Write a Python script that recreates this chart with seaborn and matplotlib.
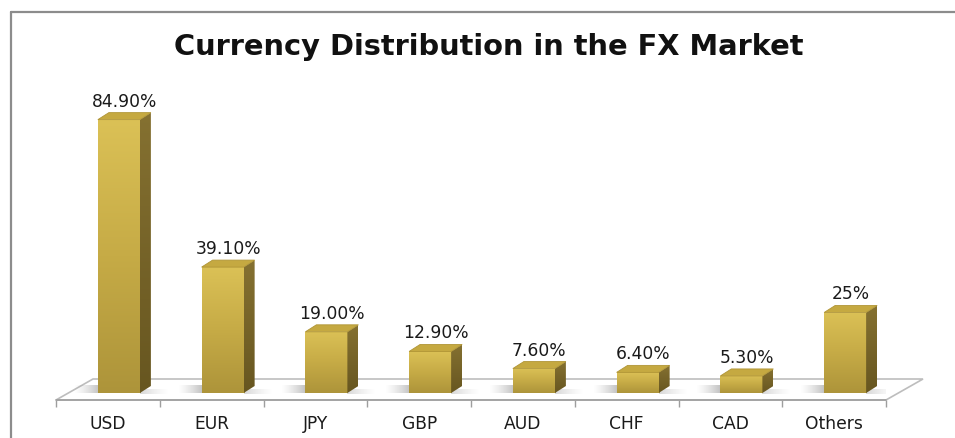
import numpy as np
import pandas as pd
import seaborn as sns
import matplotlib.pyplot as plt
from matplotlib.patches import Polygon
from matplotlib.lines import Line2D
from matplotlib.colors import LinearSegmentedColormap

currencies = ["USD", "EUR", "JPY", "GBP", "AUD", "CHF", "CAD", "Others"]
shares = [84.9, 39.1, 19.0, 12.9, 7.6, 6.4, 5.3, 25.0]
value_labels = ["84.90%", "39.10%", "19.00%", "12.90%", "7.60%", "6.40%", "5.30%", "25%"]
title = "Currency Distribution in the FX Market"

df = pd.DataFrame({"currency": currencies, "share": shares})

sns.set_theme(style="white")
plt.rcParams['font.family'] = ['DejaVu Sans']

W, H = 955, 439
fig = plt.figure(figsize=(W / 100, H / 100), dpi=100)

# axes in pixel geometry
px0, px1 = 56, 886
py_front = 401
py_top = 100
py_base = 394
ppu = 3.22  # pixels per percentage point
ax = fig.add_axes([px0 / W, (H - py_front) / H, (px1 - px0) / W, (py_front - py_top) / H])

sns.barplot(data=df, x="currency", y="share", ax=ax, width=0.405,
            color="#C8AE45", saturation=1, linewidth=0, zorder=3)

ylo = -(py_front - py_base) / ppu
yhi = (py_base - py_top) / ppu
xlo, xhi = -0.5, 7.5
upx = (xhi - xlo) / (px1 - px0)  # data units per pixel in x

shift = 11 * upx
dx = 11 * upx
dy = 7 / ppu

# floor
back_dx = 37 * upx
back_y = (py_base - 380) / ppu
floor = Polygon([(xlo, ylo), (xhi, ylo), (xhi + back_dx, back_y), (xlo + back_dx, back_y)],
                closed=True, facecolor="white", edgecolor="#BDBDBD", linewidth=1.2,
                clip_on=False, zorder=1)
ax.add_patch(floor)
ax.add_line(Line2D([xlo, xhi], [ylo, ylo], color="#9E9E9E", linewidth=1.2, clip_on=False, zorder=2))

front_cmap = LinearSegmentedColormap.from_list("front", ["#AD943A", "#C6AB46", "#DBC156"])
side_cmap = LinearSegmentedColormap.from_list("side", ["#675620", "#857131"])
grad = np.linspace(0, 1, 256).reshape(-1, 1)

shadow = np.zeros((1, 64, 4))
shadow[..., :3] = 0.5
shadow[0, :, 3] = np.linspace(0, 0.6, 64) ** 1.3

bars = list(ax.patches)
for p, lab in zip(bars, value_labels):
    p.set_x(p.get_x() + shift)
    x, w, h = p.get_x(), p.get_width(), p.get_height()
    xr = x + w
    # soft shadow on the floor left of the bar
    ax.imshow(shadow, extent=[x - 24 * upx, x + 2 * upx, 0.0, dy * 1.1], aspect="auto",
              zorder=2, interpolation="bilinear")
    ax.imshow(shadow[:, ::-1, :] * np.array([1, 1, 1, 0.6]),
              extent=[xr, xr + dx + 18 * upx, -0.2, dy * 0.6],
              aspect="auto", zorder=2, interpolation="bilinear")
    # front gradient
    img = ax.imshow(grad, extent=[x, xr, 0, h], origin="lower", cmap=front_cmap,
                    aspect="auto", zorder=3.1, interpolation="bilinear")
    img.set_clip_path(p)
    # side face
    side = Polygon([(xr, 0), (xr + dx, dy), (xr + dx, h + dy), (xr, h)], closed=True,
                   facecolor="none", edgecolor="none", zorder=3.2)
    ax.add_patch(side)
    simg = ax.imshow(grad, extent=[xr, xr + dx, 0, h + dy], origin="lower", cmap=side_cmap,
                     aspect="auto", zorder=3.2, interpolation="bilinear")
    simg.set_clip_path(side)
    # top face
    top = Polygon([(x, h), (x + dx, h + dy), (xr + dx, h + dy), (xr, h)], closed=True,
                  facecolor="#C5A941", edgecolor="#B09536", linewidth=0.6, zorder=3.3)
    ax.add_patch(top)
    ax.text(x + (w + dx) / 2, h + dy + 7 / ppu, lab, ha="center", va="baseline",
            fontsize=12.3, color="#1A1A1A", zorder=5)

ax.set_xlim(xlo, xhi)
ax.set_ylim(ylo, yhi)
for s in ax.spines.values():
    s.set_visible(False)
ax.set_yticks([])
ax.set_xlabel("")
ax.set_ylabel("")
ax.set_xticks(range(len(currencies)))
ax.set_xticklabels(currencies, fontsize=12.3, color="#1A1A1A")
ax.set_xticks(np.arange(-0.5, len(currencies), 1.0), minor=True)
ax.tick_params(axis="x", which="major", length=0, pad=10)
ax.tick_params(axis="x", which="minor", bottom=True, length=5, width=1, color="#9E9E9E")
ax.set_facecolor("none")

fig.text(488.5 / W, (H - 55) / H, title, ha="center", va="baseline", fontsize=20.8,
         fontweight="bold", family=["DejaVu Sans"], color="#111111")

# chart border
fig.add_artist(Line2D([10.5 / W, 1.0], [(H - 12.5) / H, (H - 12.5) / H], color="#8C8C8C", linewidth=1.6))
fig.add_artist(Line2D([10.5 / W, 10.5 / W], [0, (H - 12.5) / H], color="#8C8C8C", linewidth=1.6))

fig.savefig("out.png", dpi=100)
